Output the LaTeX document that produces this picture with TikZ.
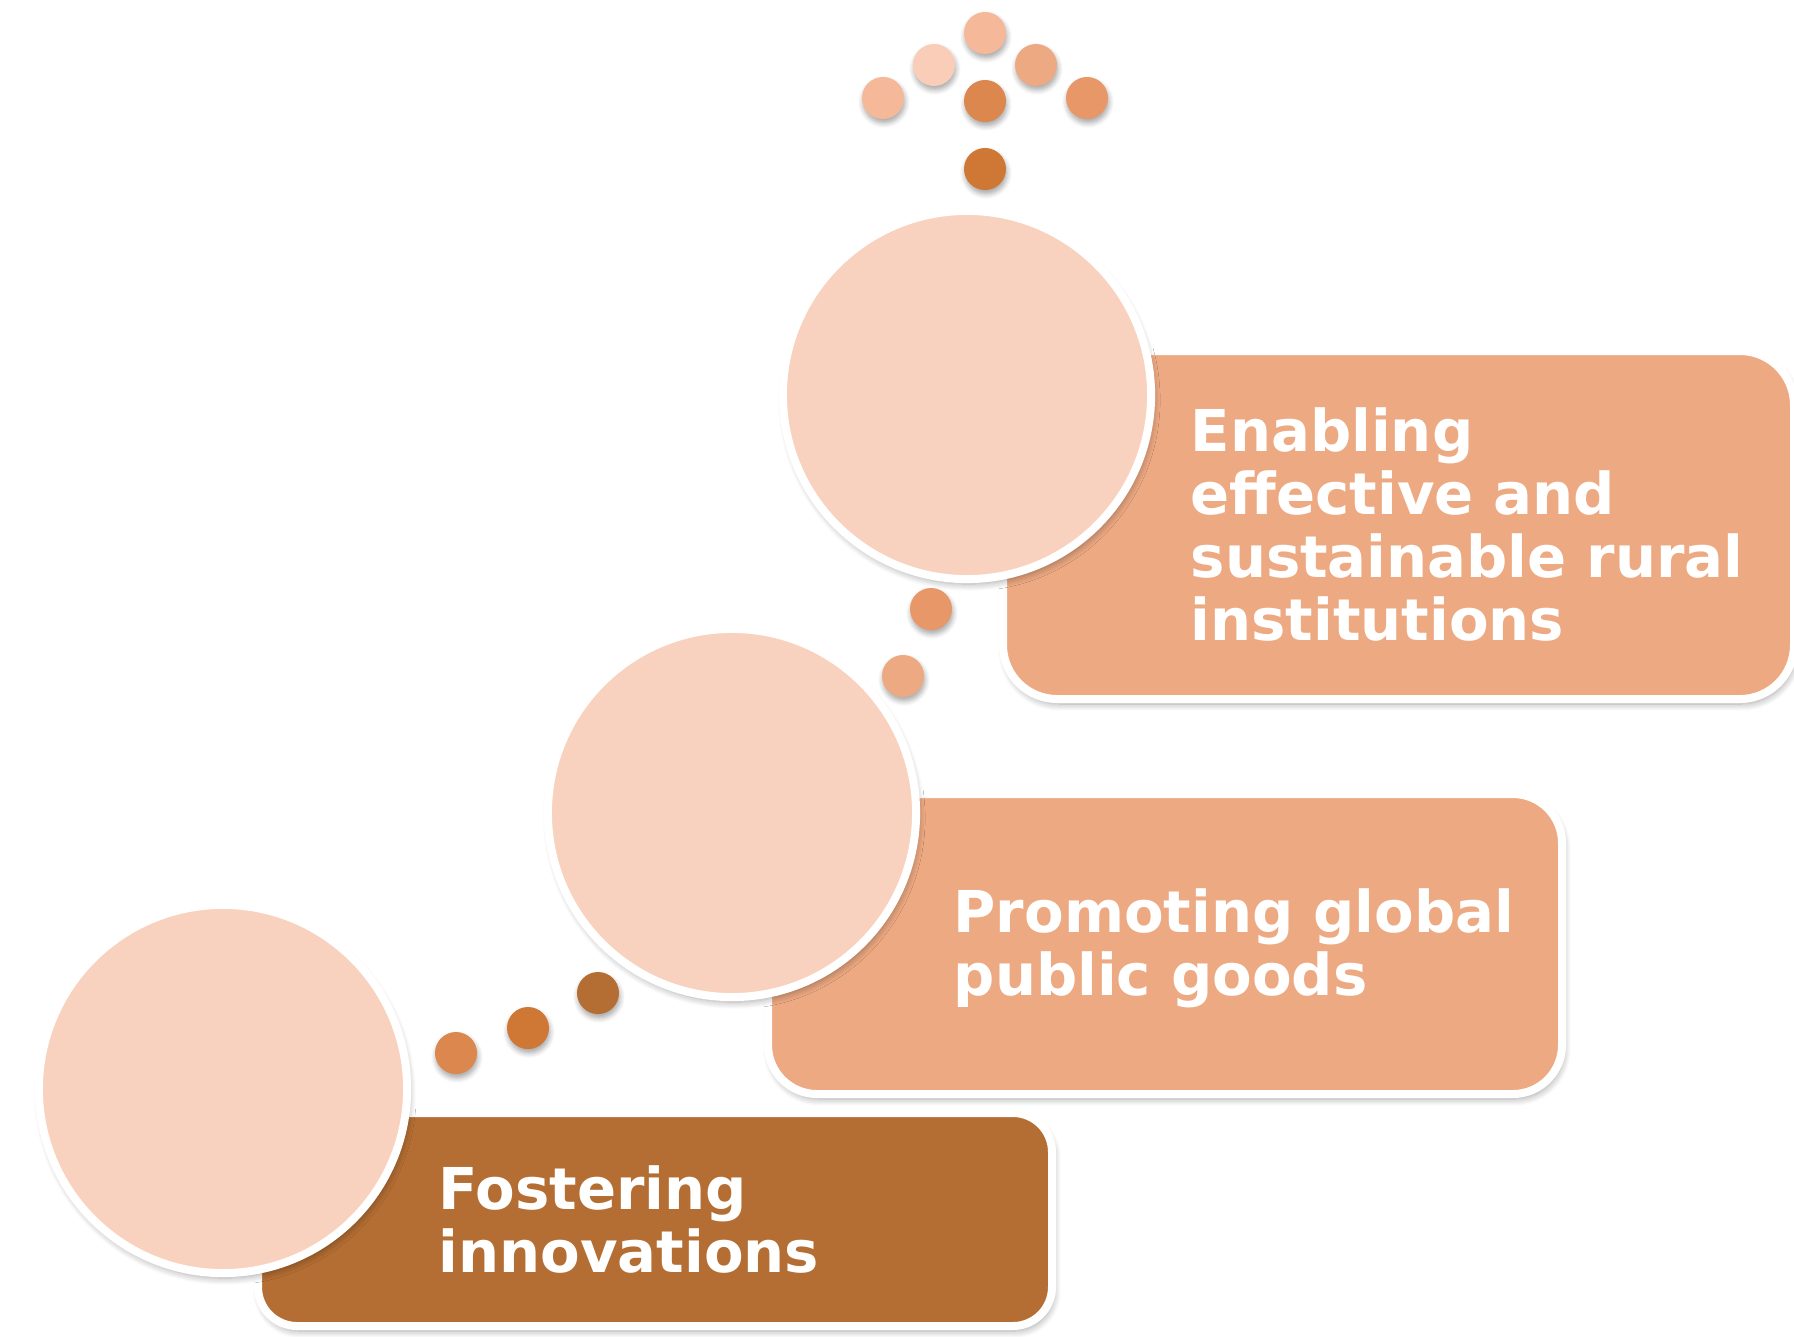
\documentclass[tikz,border=0pt]{standalone}
\usepackage{fontspec}
\setmainfont{DejaVu Sans}
\usepackage{tikz}
\usetikzlibrary{positioning, shadows.blur, calc}

\definecolor{circlefill}{HTML}{F9D2BF}
\definecolor{boxlight}{HTML}{EDA982}
\definecolor{boxdark}{HTML}{B46E33}
\definecolor{dotpale}{HTML}{F5B898}
\definecolor{dotpaler}{HTML}{F9CDB7}
\definecolor{dotlight}{HTML}{EDA982}
\definecolor{dotmid}{HTML}{DB874E}
\definecolor{dotwarm}{HTML}{E89768}
\definecolor{dotdeep}{HTML}{CF7836}
\definecolor{dotdark}{HTML}{B46E33}

\tikzset{
    softshadow/.style={blur shadow={shadow xshift=0.02cm, shadow yshift=-0.05cm, shadow blur radius=0.07cm, shadow blur steps=8, shadow opacity=35}},
    dotshadow/.style={blur shadow={shadow xshift=0.01cm, shadow yshift=-0.04cm, shadow blur radius=0.05cm, shadow blur steps=6, shadow opacity=35}},
    bigcircle/.style={circle, draw=white, line width=0.08cm, fill=circlefill, minimum size=3.68cm, inner sep=0pt, softshadow},
    stepframe/.style={draw=white, line width=0.08cm, softshadow},
    labeltext/.style={font=\fontsize{16.4}{17.9}\selectfont\bfseries, text=white, align=left, inner sep=0pt, anchor=north west, yshift=13pt}
}

\begin{document}
\begin{tikzpicture}[x=0.01cm, y=-0.01cm]

    \useasboundingbox (0,0) rectangle (1794,1336);
    \pgfmathsetmacro{\dotr}{0.21}

    % top step
    \path[stepframe, fill=boxlight, rounded corners=0.54cm] (1003,351) rectangle (1794,699);
    \node[bigcircle] (c3) at (967,395) {};

    % middle step
    \path[stepframe, fill=boxlight, rounded corners=0.49cm] (768,794) rectangle (1562,1094);
    \node[bigcircle] (c2) at (732,813) {};

    % bottom step
    \path[stepframe, fill=boxdark, rounded corners=0.39cm] (258,1113) rectangle (1052,1326);
    \node[bigcircle] (c1) at (223,1089) {};

    % the dots
    \foreach \px/\py/\col in {985/33/dotpale, 934/65/dotpaler, 1036/65/dotlight, 883/98/dotpale,
                              985/101/dotmid, 1087/98/dotwarm, 985/169/dotdeep,
                              931/609/dotwarm, 903/676/dotlight,
                              456/1053/dotmid, 528/1028/dotdeep, 598/993/dotdark} {
        \path[fill=\col, dotshadow] (\px,\py) circle (\dotr cm);
    }

    % labels
    \node[labeltext] (t3) at (1190,451) {\rule{0pt}{13pt}Enabling\\effective and\\sustainable rural\\institutions};
    \node[labeltext] (t2) at (953,932) {\rule{0pt}{13pt}Promoting global\\public goods};
    \node[labeltext] (t1) at (438,1209) {\rule{0pt}{13pt}Fostering\\innovations};

\end{tikzpicture}
\end{document}
